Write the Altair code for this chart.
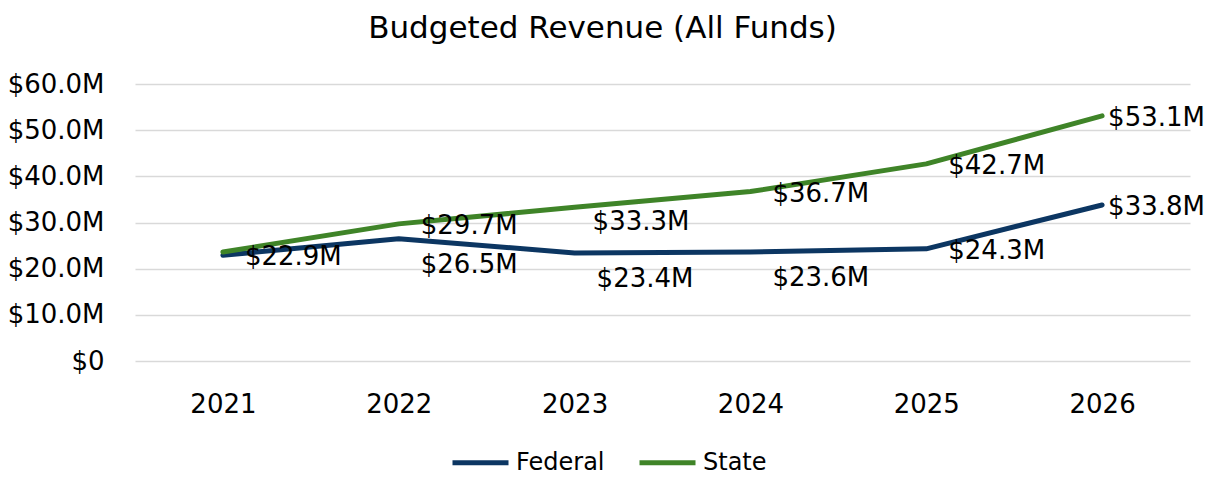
import altair as alt
import pandas as pd

years = ["2021", "2022", "2023", "2024", "2025", "2026"]
federal = [22.9, 26.5, 23.4, 23.6, 24.3, 33.8]
state = [23.6, 29.7, 33.3, 36.7, 42.7, 53.1]
series_names = ["Federal", "State"]
series_colors = ["#0C3662", "#3F8428"]
# label placement categories (like Excel's data-label positions)
federal_label_pos = ["right", "below", "below", "below", "right", "edge"]
state_label_pos = ["none", "right", "lower", "right", "right", "edge"]
y_ticks = [0, 10, 20, 30, 40, 50, 60]

rows = []
for i, y in enumerate(years):
    rows.append({"year": y, "series": "Federal", "value": federal[i], "pos": federal_label_pos[i]})
    rows.append({"year": y, "series": "State", "value": state[i], "pos": state_label_pos[i]})
df = pd.DataFrame(rows)

FONT = "DejaVu Sans"
FS = 26

x_enc = alt.X("year:O", scale=alt.Scale(type="point", padding=0.5),
              axis=alt.Axis(title=None, labelAngle=0, domain=False, ticks=False,
                            labelFontSize=FS, labelPadding=30, labelColor="#000000",
                            labelFont=FONT, grid=False))
y_enc = alt.Y("value:Q", scale=alt.Scale(domain=[0, 60], nice=False),
              axis=alt.Axis(title=None, values=y_ticks, domain=False, ticks=False,
                            labelFontSize=FS, labelPadding=31, labelColor="#000000",
                            labelFont=FONT, gridColor="#D9D9D9", gridWidth=1.5,
                            labelExpr="datum.value == 0 ? '$0' : '$' + format(datum.value, '.1f') + 'M'"))

color_enc = alt.Color("series:N",
                      scale=alt.Scale(domain=series_names, range=series_colors),
                      legend=alt.Legend(title=None, orient="none", direction="horizontal",
                                        legendX=315, legendY=348,
                                        symbolType="stroke", symbolSize=3136,
                                        symbolStrokeWidth=5, labelFontSize=24,
                                        labelFont=FONT, labelColor="#000000",
                                        labelOffset=5, columnPadding=24))

base = alt.Chart(df)

lines = base.mark_line(strokeWidth=5, strokeCap="round", strokeJoin="round").encode(
    x=x_enc, y=y_enc, color=color_enc
)

offsets = {"right": (22, 2), "lower": (18, 15), "below": (22, 26), "edge": (6, 2)}
label_layers = []
for pos, (dx, dy) in offsets.items():
    label_layers.append(
        base.transform_filter(alt.datum.pos == pos)
        .transform_calculate(lab="'$' + format(datum.value, '.1f') + 'M'")
        .mark_text(align="left", baseline="middle", dx=dx, dy=dy, fontSize=FS,
                   font=FONT, color="#000000")
        .encode(x=alt.X("year:O"), y=alt.Y("value:Q"), text="lab:N")
    )

chart = alt.layer(lines, *label_layers).properties(
    width=1055, height=277,
    background="white",
    title=alt.TitleParams("Budgeted Revenue (All Funds)", fontSize=31, font=FONT,
                          fontWeight="normal", color="#000000", anchor="middle",
                          dx=-60, offset=26),
    autosize=alt.AutoSizeParams(type="none"),
    padding={"left": 127, "top": 76, "right": 19, "bottom": 114},
).configure_view(strokeWidth=0, stroke="transparent")

chart.save("out.html", embed_options={"renderer": "svg", "actions": False})
